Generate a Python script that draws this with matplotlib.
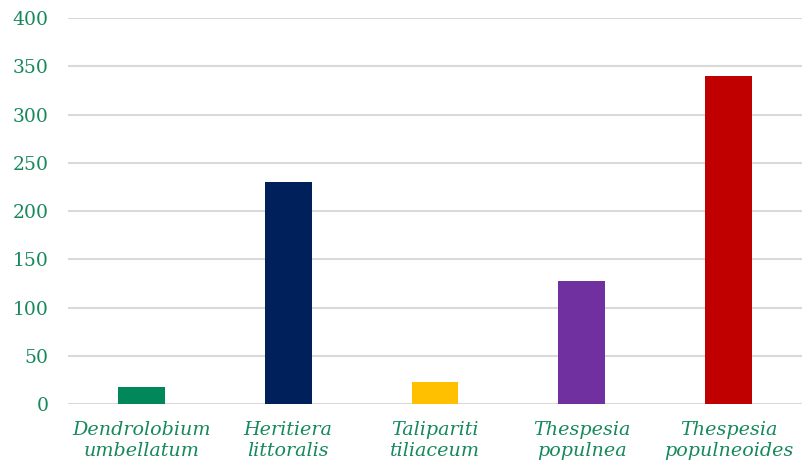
import matplotlib
matplotlib.use("Agg")
import matplotlib.pyplot as plt

categories = ["Dendrolobium\numbellatum", "Heritiera\nlittoralis", "Talipariti\ntiliaceum",
              "Thespesia\npopulnea", "Thespesia\npopulneoides"]
values = [18, 230, 23, 128, 340]
colors = ["#00875A", "#00205B", "#FFC000", "#7030A0", "#C00000"]
yticks = [0, 50, 100, 150, 200, 250, 300, 350, 400]

text_color = "#16895C"
plt.rcParams['font.family'] = ['DejaVu Serif']

fig = plt.figure(figsize=(8.02, 4.65), dpi=100)
ax = fig.add_axes([0.0848, 0.131, 0.9152, 0.830])
x = list(range(len(categories)))
ax.bar(x, values, width=0.32, color=colors, zorder=3)
ax.set_xlim(-0.5, len(categories) - 0.5)
ax.set_ylim(0, 400)
ax.set_yticks(yticks)
ax.set_yticklabels([str(t) for t in yticks], fontsize=13.5, color=text_color)
ax.set_xticks(x)
ax.set_xticklabels(categories, fontsize=13.8, style='italic', color=text_color, linespacing=1.25)
ax.tick_params(axis='y', length=0, pad=14)
ax.tick_params(axis='x', length=0, pad=12)
ax.yaxis.grid(True, color="#d9d9d9", linewidth=1.5, zorder=0)
for s in ax.spines.values():
    s.set_visible(False)
fig.savefig("out.png", dpi=100)
